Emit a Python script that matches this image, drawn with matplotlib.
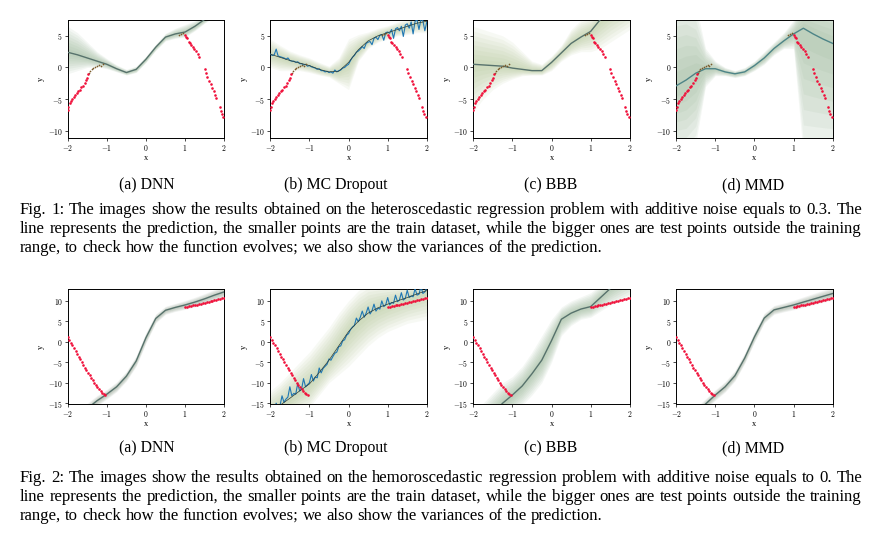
import matplotlib
matplotlib.use('Agg')
import matplotlib.pyplot as plt
import numpy as np
from matplotlib.ticker import FuncFormatter

# ---------------- data ----------------
GRID = [-2.0, -1.75, -1.5, -1.25, -1.0, -0.75, -0.5, -0.25, 0.0,
        0.25, 0.5, 0.75, 1.0, 1.25, 1.5, 1.75, 2.0]
GRID81 = [-2.0, -1.95, -1.9, -1.85, -1.8, -1.75, -1.7, -1.65, -1.6, -1.55,
          -1.5, -1.45, -1.4, -1.35, -1.3, -1.25, -1.2, -1.15, -1.1, -1.05,
          -1.0, -0.95, -0.9, -0.85, -0.8, -0.75, -0.7, -0.65, -0.6, -0.55,
          -0.5, -0.45, -0.4, -0.35, -0.3, -0.25, -0.2, -0.15, -0.1, -0.05,
          0.0, 0.05, 0.1, 0.15, 0.2, 0.25, 0.3, 0.35, 0.4, 0.45,
          0.5, 0.55, 0.6, 0.65, 0.7, 0.75, 0.8, 0.85, 0.9, 0.95,
          1.0, 1.05, 1.1, 1.15, 1.2, 1.25, 1.3, 1.35, 1.4, 1.45,
          1.5, 1.55, 1.6, 1.65, 1.7, 1.75, 1.8, 1.85, 1.9, 1.95, 2.0]

# Fig. 1 (heteroscedastic)
F1_TEST_X = [-2.00, -1.98, -1.95, -1.92, -1.89, -1.85, -1.81, -1.77, -1.73, -1.69,
             -1.65, -1.61, -1.57, -1.53, -1.50, -1.47,
             1.00, 1.03, 1.06, 1.09, 1.12, 1.16, 1.20, 1.24, 1.28, 1.32, 1.36,
             1.50, 1.53, 1.57, 1.61, 1.65, 1.69, 1.73, 1.77, 1.80, 1.88, 1.91, 1.94, 1.97]
F1_TEST_Y = [-6.8, -6.3, -5.6, -5.3, -5.0, -4.6, -4.4, -4.0, -3.7, -3.6,
             -3.1, -2.9, -2.4, -2.0, -1.6, -1.1,
             5.2, 4.8, 4.6, 4.1, 3.9, 3.6, 3.2, 2.9, 2.6, 2.2, 1.7,
             -0.3, -0.8, -1.5, -2.2, -2.6, -3.3, -3.7, -4.4, -4.8, -6.2, -6.9, -7.3, -7.8]
F1_TRAIN_X = [-1.45, -1.42, -1.38, -1.35, -1.30, -1.25, -1.20, -1.15, -1.10, 0.85, 0.90, 0.95]
F1_TRAIN_Y = [-0.9, -0.5, -0.3, -0.1, 0.0, 0.3, 0.4, 0.3, 0.5, 5.2, 5.3, 5.4]

F1_DNN_MEAN = [2.4, 2.0, 1.5, 1.0, 0.5, -0.2, -0.8, -0.3, 1.3, 3.2, 4.8, 5.3, 5.6, 6.5, 7.6, 8.5, 9.4]
F1_DNN_HI = [6.5, 5.5, 4.0, 2.5, 1.4, 0.4, -0.3, 0.2, 1.8, 3.7, 5.4, 6.2, 6.8, 7.4, 8.3, 9.2, 10.0]
F1_DNN_LO = [-1.0, -0.5, 0.0, 0.1, -0.2, -0.7, -1.2, -0.8, 0.8, 2.7, 4.2, 4.6, 4.8, 5.8, 7.0, 8.0, 8.8]

F1_MC_MEAN = [2.1, 1.6, 1.1, 0.7, 0.3, -0.3, -0.7, -0.6, 0.8, 2.8, 4.2, 5.0, 5.5, 6.0, 6.5, 7.0, 7.3]
F1_MC_HI = [4.5, 3.5, 2.6, 2.0, 1.5, 0.8, 0.2, 1.5, 4.5, 5.2, 5.6, 6.2, 6.6, 7.2, 7.6, 8.0, 8.2]
F1_MC_LO = [0.0, -0.5, -0.5, -0.5, -0.8, -1.2, -1.5, -2.5, -3.5, 1.0, 3.0, 4.0, 4.5, 5.0, 5.2, 5.5, 5.5]
F1_MC_SAMPLE = [2.1, 1.9, 2.0, 2.9, 1.8, 1.7, 1.6, 1.5, 1.3, 1.5,
                1.1, 1.0, 1.0, 0.8, 0.9, 0.6, 0.6, 0.4, 0.5, 0.2,
                0.3, 0.1, 0.0, -0.1, -0.3, -0.2, -0.5, -0.5, -0.7, -0.6,
                -0.8, -0.7, -0.9, -0.4, -0.7, -0.5, -0.4, -0.1, 0.0, 0.3,
                0.5, 1.1, 1.6, 1.9, 2.4, 2.6, 2.9, 3.3, 3.0, 3.8,
                4.0, 4.1, 3.6, 4.6, 4.8, 4.4, 5.1, 5.2, 4.3, 5.5,
                5.6, 5.4, 6.0, 4.6, 6.1, 6.3, 5.8, 6.5, 4.9, 6.7,
                6.9, 6.2, 7.2, 5.3, 7.3, 7.5, 6.0, 7.6, 7.4, 5.8, 7.2]

F1_BBB_MEAN = [0.5, 0.4, 0.3, 0.2, -0.1, -0.3, -0.5, -0.5, 0.8, 2.3, 3.8, 4.8, 5.7, 7.6, 9.0, 10.0, 11.0]
F1_BBB_HI = [6.5, 6.0, 5.5, 5.0, 4.0, 2.5, 1.0, 0.5, 1.8, 3.5, 6.0, 7.5, 8.0, 9.0, 10.0, 11.0, 12.0]
F1_BBB_LO = [-7.0, -5.0, -3.5, -2.5, -1.8, -1.3, -1.2, -1.2, -0.5, 1.0, 2.0, 2.5, 2.5, 3.0, 4.0, 5.0, 6.0]

F1_MMD_MEAN = [-2.9, -2.0, -0.9, -0.2, -0.2, -0.7, -1.0, -0.7, 0.3, 1.5, 3.0, 4.2, 5.3, 6.2, 5.3, 4.5, 3.8]
F1_MMD_HI = [12, 12, 10, 3.0, 1.0, 0.0, -0.5, 0.0, 1.0, 2.5, 4.0, 5.5, 7.5, 12, 12, 12, 12]
F1_MMD_LO = [-14, -14, -12, -3.0, -1.3, -1.3, -1.6, -1.3, -0.5, 0.5, 2.0, 3.0, 3.0, -14, -14, -14, -14]

# Fig. 2 (homoscedastic)
F2_TEST_X = [-2.00, -1.96, -1.92, -1.88, -1.84, -1.80, -1.76, -1.72, -1.68, -1.64,
             -1.60, -1.56, -1.52, -1.48, -1.44, -1.40, -1.36, -1.32, -1.28, -1.24,
             -1.20, -1.16, -1.12, -1.08, -1.04,
             1.00, 1.05, 1.10, 1.15, 1.20, 1.25, 1.30, 1.35, 1.40, 1.45, 1.50,
             1.55, 1.60, 1.65, 1.70, 1.75, 1.80, 1.85, 1.90, 1.95, 2.00]
F2_TEST_Y = [1.2, 0.5, -0.2, -0.9, -1.6, -2.3, -3.0, -3.7, -4.3, -5.0,
             -5.6, -6.3, -7.0, -7.6, -8.2, -8.8, -9.4, -10.0, -10.6, -11.1,
             -11.6, -12.1, -12.5, -12.8, -13.0,
             8.5, 8.6, 8.7, 8.8, 8.9, 9.0, 9.1, 9.2, 9.35, 9.45, 9.55,
             9.65, 9.75, 9.85, 9.95, 10.1, 10.2, 10.35, 10.45, 10.6, 10.75]

F2_DNN_MEAN = [-22, -20, -16.3, -14.4, -12.8, -11.0, -8.4, -4.7, 1.0, 5.7, 7.7, 8.4, 9.0, 9.7, 10.5, 11.4, 12.2]
F2_DNN_HI = [-20.5, -18.5, -15.0, -13.1, -11.6, -9.8, -7.2, -3.4, 2.3, 6.8, 8.7, 9.4, 10.1, 10.9, 11.8, 12.8, 13.7]
F2_DNN_LO = [-23.5, -21.5, -17.6, -15.7, -14.0, -12.2, -9.6, -6.0, -0.3, 4.6, 6.7, 7.4, 7.9, 8.5, 9.2, 10.0, 10.7]

F2_MC_MEAN = [-17, -15.5, -13.8, -12.0, -10.3, -7.5, -4.5, -1.0, 2.5, 5.0, 7.0, 8.3, 9.2, 10.0, 10.8, 11.7, 12.5]
F2_MC_HI = [-12, -10, -7.5, -5, -2.5, 0.5, 3.5, 7, 10, 12.5, 14, 14, 14, 14, 14, 14, 14]
F2_MC_LO = [-22, -21, -19, -17, -16, -13, -10, -8, -6, -3.5, -1, 1, 2.5, 3.5, 4.5, 5, 5.5]
F2_MC_SAMPLE = [-18.0, -17.0, -16.8, -15.0, -16.2, -15.5, -13.2, -14.8, -14.0, -13.5,
                -11.0, -13.2, -12.6, -12.8, -10.2, -12.0, -11.5, -9.0, -11.0, -10.5,
                -10.0, -8.0, -9.6, -8.6, -8.8, -6.4, -7.6, -6.5, -6.0, -5.5,
                -4.2, -4.5, -3.6, -2.8, -2.5, -1.2, -1.0, 0.2, 0.5, 1.6,
                2.0, 3.0, 3.6, 4.0, 5.8, 4.9, 6.0, 7.5, 6.0, 7.0,
                8.5, 6.8, 7.6, 9.2, 7.5, 8.2, 8.0, 10.0, 8.6, 9.0,
                10.8, 9.0, 9.6, 9.4, 11.4, 9.8, 10.2, 12.0, 10.2, 10.6,
                12.6, 10.8, 11.2, 11.0, 13.0, 11.4, 11.6, 13.5, 11.8, 12.2, 13.2]

F2_BBB_MEAN = [-22, -20, -17.5, -15, -13, -10.8, -7.8, -4.5, 0.3, 5.5, 7.0, 8.0, 8.6, 10.8, 13, 15, 17]
F2_BBB_HI = [-17, -15, -12.5, -10, -8.5, -6, -2.5, 1.5, 5.5, 8.5, 10, 11, 12, 14, 16, 18, 19]
F2_BBB_LO = [-27, -25, -22.5, -20, -17.5, -15.5, -13, -10, -5, 1.5, 4, 5.5, 6, 7.5, 9, 10, 11]

F2_MMD_MEAN = [-22, -20, -17.5, -15.2, -13, -11, -8.3, -4, 1.2, 5.8, 7.8, 8.4, 9.0, 9.7, 10.4, 11.1, 11.8]
F2_MMD_HI = [-20.5, -18.5, -16.1, -13.9, -11.7, -9.7, -7.0, -2.7, 2.5, 7.0, 8.9, 9.5, 10.2, 11.0, 11.8, 12.6, 13.4]
F2_MMD_LO = [-23.5, -21.5, -18.9, -16.5, -14.3, -12.3, -9.6, -5.3, -0.1, 4.6, 6.7, 7.3, 7.8, 8.4, 9.0, 9.6, 10.2]

SUBCAPS = ['(a) DNN', '(b) MC Dropout', '(c) BBB', '(d) MMD']
CAP1 = ["Fig. 1: The images show the results obtained on the heteroscedastic regression problem with additive noise equals to 0.3. The",
        "line represents the prediction, the smaller points are the train dataset, while the bigger ones are test points outside the training",
        "range, to check how the function evolves; we also show the variances of the prediction."]
CAP2 = ["Fig. 2: The images show the results obtained on the hemoroscedastic regression problem with additive noise equals to 0. The",
        "line represents the prediction, the smaller points are the train dataset, while the bigger ones are test points outside the training",
        "range, to check how the function evolves; we also show the variances of the prediction."]

# ---------------- style ----------------
plt.rcParams['mathtext.fontset'] = 'cm'
plt.rcParams['font.family'] = ['Liberation Serif', 'DejaVu Serif']

W, H = 877, 538
fig = plt.figure(figsize=(W / 100, H / 100), dpi=100)


def fx(px):
    return px / W


def fy(py):
    return 1 - py / H


AX_LEFT = [67.7, 270.3, 473.3, 676.2]
AX_W = 156.5
SUB_CX = [147, 336, 551, 753]
ROW1 = (20.0, 137.7)
ROW2 = (289.0, 404.0)
RED = '#f0103a'
GREEN = '#86aa84'
YGREEN = '#a9bf86'
LINEC = '#57726c'
BLUE = '#1f77b4'

fmt = FuncFormatter(lambda v, p: r'$%g$' % v)


def make_ax(left, top, bottom, ylim, yticks):
    ax = fig.add_axes([fx(left), fy(bottom), AX_W / W, (bottom - top) / H])
    ax.set_xlim(-2, 2)
    ax.set_ylim(*ylim)
    ax.set_xticks([-2, -1, 0, 1, 2])
    ax.set_yticks(yticks)
    ax.xaxis.set_major_formatter(fmt)
    ax.yaxis.set_major_formatter(fmt)
    ax.tick_params(labelsize=5.5, length=2, width=0.5, pad=1.5)
    for s in ax.spines.values():
        s.set_linewidth(0.7)
    ax.set_xlabel('x', fontsize=6, labelpad=1)
    ax.set_ylabel('y', fontsize=6, labelpad=2)
    return ax


def shade(ax, mean, lo, hi, color, layers=8, alpha=0.085):
    m = np.array(mean, float)
    l = np.array(lo, float)
    h = np.array(hi, float)
    for k in np.linspace(1.0, 0.15, layers):
        ax.fill_between(GRID, m - (m - l) * k, m + (h - m) * k, color=color,
                        alpha=alpha, lw=0)


F1_YLIM = (-11.1, 7.5)
F2_YLIM = (-15.2, 12.9)
F1_YT = [-10, -5, 0, 5]
F2_YT = [-15, -10, -5, 0, 5, 10]

# ---- Fig 1 ----
f1 = dict(
    DNN=(F1_DNN_MEAN, F1_DNN_LO, F1_DNN_HI, GREEN, LINEC),
    MC=(F1_MC_MEAN, F1_MC_LO, F1_MC_HI, YGREEN, LINEC),
    BBB=(F1_BBB_MEAN, F1_BBB_LO, F1_BBB_HI, YGREEN, LINEC),
    MMD=(F1_MMD_MEAN, F1_MMD_LO, F1_MMD_HI, GREEN, '#4d8487'),
)
for i, key in enumerate(['DNN', 'MC', 'BBB', 'MMD']):
    ax = make_ax(AX_LEFT[i], ROW1[0], ROW1[1], F1_YLIM, F1_YT)
    mean, lo, hi, col, lc = f1[key]
    shade(ax, mean, lo, hi, col)
    if key == 'MC':
        ax.plot(GRID81, F1_MC_SAMPLE, color=BLUE, lw=0.8, zorder=3)
        ax.plot(GRID, mean, color='#2e3d35', lw=0.5, zorder=4)
    else:
        ax.plot(GRID, mean, color=lc, lw=1.0, zorder=3)
    ax.scatter(F1_TRAIN_X, F1_TRAIN_Y, s=1.5, color='#7a5a2a', zorder=5, lw=0)
    ax.scatter(F1_TEST_X, F1_TEST_Y, s=3.5, color=RED, zorder=5, lw=0)

# ---- Fig 2 ----
f2 = dict(
    DNN=(F2_DNN_MEAN, F2_DNN_LO, F2_DNN_HI, '#8e9f8c'),
    MC=(F2_MC_MEAN, F2_MC_LO, F2_MC_HI, YGREEN),
    BBB=(F2_BBB_MEAN, F2_BBB_LO, F2_BBB_HI, GREEN),
    MMD=(F2_MMD_MEAN, F2_MMD_LO, F2_MMD_HI, '#8e9f8c'),
)
for i, key in enumerate(['DNN', 'MC', 'BBB', 'MMD']):
    ax = make_ax(AX_LEFT[i], ROW2[0], ROW2[1], F2_YLIM, F2_YT)
    mean, lo, hi, col = f2[key]
    shade(ax, mean, lo, hi, col)
    if key == 'MC':
        ax.plot(GRID81, F2_MC_SAMPLE, color=BLUE, lw=0.8, zorder=3)
        ax.plot(GRID, mean, color='#2e3d35', lw=0.5, zorder=4)
    else:
        ax.plot(GRID, mean, color=LINEC, lw=1.0, zorder=3)
    ax.scatter(F2_TEST_X, F2_TEST_Y, s=3.5, color=RED, zorder=5, lw=0)

# ---------------- text ----------------
CAP_FS = 12.1
SUB_FS = 11.3
for i, t in enumerate(SUBCAPS):
    fig.text(fx(SUB_CX[i]), fy(189), t, fontsize=SUB_FS, ha='center', va='baseline')
    fig.text(fx(SUB_CX[i]), fy(452), t, fontsize=SUB_FS, ha='center', va='baseline')

renderer = fig.canvas.get_renderer()


def caption_line(text, y_px, justify, x0=20.0, x1=862.0):
    words = text.split(' ')
    objs = [fig.text(0, fy(y_px), w, fontsize=CAP_FS, ha='left', va='baseline')
            for w in words]
    widths = [o.get_window_extent(renderer=renderer).width for o in objs]
    if justify and len(words) > 1:
        gap = (x1 - x0 - sum(widths)) / (len(words) - 1)
    else:
        gap = CAP_FS * 100 / 72 * 0.25
    x = x0
    for o, wd in zip(objs, widths):
        o.set_x(fx(x))
        x += wd + gap


for j, line in enumerate(CAP1):
    caption_line(line, 214 + 19 * j, justify=(j < 2))
for j, line in enumerate(CAP2):
    caption_line(line, 482 + 19 * j, justify=(j < 2))

fig.savefig('out.png', dpi=100, facecolor='white')
